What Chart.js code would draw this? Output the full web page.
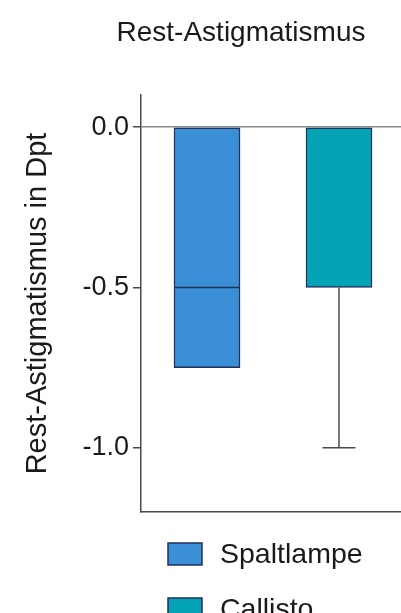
<!DOCTYPE html>
<html lang="de">
<head>
  <meta charset="UTF-8" />
  <title>Rest-Astigmatismus</title>
  <script src="https://cdn.jsdelivr.net/npm/chart.js"></script>
  <style>
    html, body {
      margin: 0;
      padding: 0;
      background: #fff;
      overflow: hidden;
    }
  </style>
</head>
<body>

<canvas id="chartCanvas" width="405" height="613"></canvas>

<script>
  // data
  const groups = ['Spaltlampe', 'Callisto'];
  const means = [-0.75, -0.5];
  const innerLine = [-0.5, null];     // line drawn across the Spaltlampe bar
  const errorLow = [null, -1.0];      // whisker end for Callisto
  const yTicks = [0.0, -0.5, -1.0];
  const barColors = ['#3a8fd7', '#04a3b6'];

  const fontFamily = '"Liberation Sans", Arial, sans-serif';

  // whiskers + inner line, positioned by the chart scales
  const errorBarPlugin = {
    id: 'errorBars',
    afterDatasetsDraw(chart) {
      const ctx = chart.ctx;
      const y = chart.scales.y;
      const meta = chart.getDatasetMeta(0);
      ctx.save();
      meta.data.forEach((bar, i) => {
        const half = bar.width / 2;
        if (innerLine[i] !== null) {
          const py = y.getPixelForValue(innerLine[i]);
          ctx.strokeStyle = '#22325a';
          ctx.lineWidth = 1.5;
          ctx.beginPath();
          ctx.moveTo(bar.x - half, py);
          ctx.lineTo(bar.x + half, py);
          ctx.stroke();
        }
        if (errorLow[i] !== null) {
          const y0 = y.getPixelForValue(means[i]);
          const y1 = y.getPixelForValue(errorLow[i]);
          ctx.strokeStyle = '#4a4a4a';
          ctx.lineWidth = 1.5;
          ctx.beginPath();
          ctx.moveTo(bar.x, y0);
          ctx.lineTo(bar.x, y1);
          ctx.moveTo(bar.x - half / 2, y1);
          ctx.lineTo(bar.x + half / 2, y1);
          ctx.stroke();
        }
      });
      ctx.restore();
    }
  };

  // title and legend laid out like the original figure
  const decorPlugin = {
    id: 'decor',
    afterDraw(chart) {
      const ctx = chart.ctx;
      ctx.save();
      ctx.fillStyle = '#1a1a1a';
      ctx.font = '28px ' + fontFamily;
      ctx.textAlign = 'center';
      ctx.textBaseline = 'middle';
      ctx.fillText('Rest-Astigmatismus', 241, 33);

      ctx.textAlign = 'left';
      groups.forEach((g, i) => {
        const top = 543 + i * 55;
        ctx.fillStyle = barColors[i];
        ctx.fillRect(168, top, 34, 22);
        ctx.strokeStyle = '#22325a';
        ctx.lineWidth = 1.5;
        ctx.strokeRect(168, top, 34, 22);
        ctx.fillStyle = '#1a1a1a';
        ctx.font = '28.5px ' + fontFamily;
        ctx.fillText(g, 220, top + 12);
      });
      ctx.restore();
    }
  };

  const ctx = document.getElementById('chartCanvas').getContext('2d');

  new Chart(ctx, {
    type: 'bar',
    data: {
      labels: groups,
      datasets: [{
        data: means,
        backgroundColor: barColors,
        borderColor: '#22325a',
        borderWidth: 1.5,
        borderSkipped: false,
        barThickness: 66
      }]
    },
    options: {
      responsive: false,
      animation: false,
      layout: { padding: { top: 95, left: 0, right: 0, bottom: 0 } },
      plugins: {
        legend: { display: false },
        title: { display: false },
        tooltip: { enabled: false }
      },
      scales: {
        x: {
          grid: { display: false },
          border: { display: true, color: '#4a4a4a', width: 1.5 },
          ticks: { display: false },
          afterFit(scale) { scale.height = 101; }
        },
        y: {
          min: -1.2,
          max: 0.1,
          afterBuildTicks(scale) {
            scale.ticks = yTicks.map(v => ({ value: v }));
          },
          afterFit(scale) { scale.width = 141; },
          border: { display: true, color: '#4a4a4a', width: 1.5 },
          grid: {
            drawOnChartArea: true,
            drawTicks: true,
            tickLength: 8,
            tickColor: '#4a4a4a',
            color: c => (c.tick && c.tick.value === 0 ? '#8a8a8a' : 'rgba(0,0,0,0)'),
            lineWidth: 1.5
          },
          ticks: {
            color: '#1a1a1a',
            padding: 4,
            font: { size: 27, family: fontFamily },
            callback: v => v.toFixed(1)
          },
          title: {
            display: true,
            text: 'Rest-Astigmatismus in Dpt',
            color: '#1a1a1a',
            font: { size: 29, family: fontFamily },
            padding: { top: 21, bottom: 0 }
          }
        }
      }
    },
    plugins: [errorBarPlugin, decorPlugin]
  });
</script>

</body>
</html>
